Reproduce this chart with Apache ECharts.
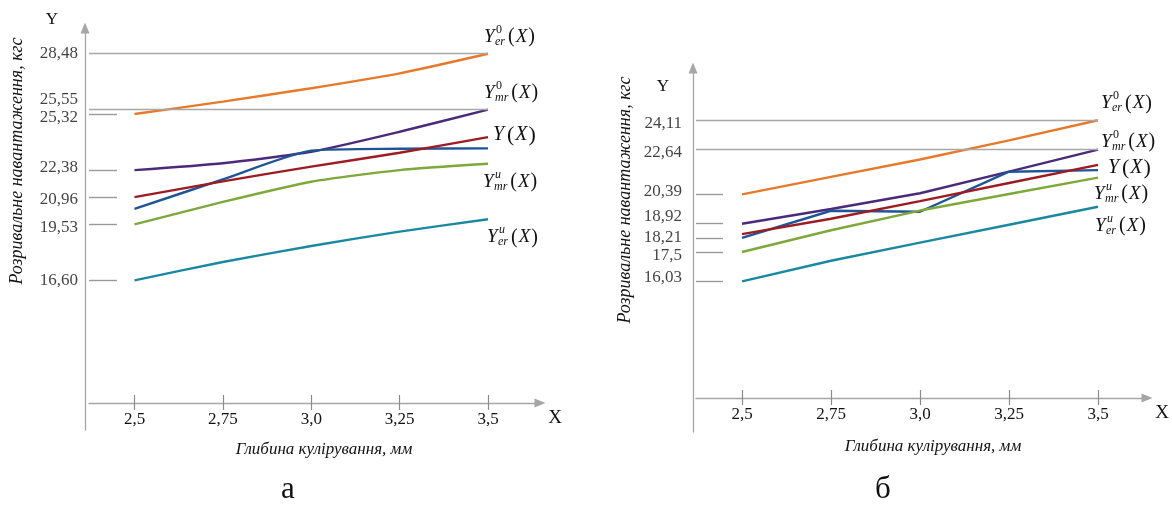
<!DOCTYPE html>
<html><head><meta charset="utf-8">
<script src="https://cdn.jsdelivr.net/npm/echarts@6/dist/echarts.min.js"></script>
<style>html,body{margin:0;padding:0;background:#fff}#c{width:1172px;height:506px}</style>
</head><body><div id="c"></div>
<script>
// ---------- DATA ----------
const xValues = [2.5, 2.75, 3.0, 3.25, 3.5];
const xTickLabels = ['2,5', '2,75', '3,0', '3,25', '3,5'];

// panel а
const aYer0 = [25.32, 25.97, 26.67, 27.45, 28.48];
const aYmr0 = [22.38, 22.74, 23.34, 24.39, 25.55];
const aYexp = [20.34, 21.89, 23.40, 23.50, 23.52];
const aYX   = [20.96, 21.79, 22.56, 23.29, 24.11];
const aYmru = [19.53, 20.71, 21.77, 22.38, 22.71];
const aYeru = [16.60, 17.56, 18.40, 19.15, 19.80];
const aYTicks = [28.48, 25.55, 25.32, 22.38, 20.96, 19.53, 16.60];
const aYTickLabels = ['28,48', '25,55', '25,32', '22,38', '20,96', '19,53', '16,60'];
const aLongTicks = [28.48, 25.55];

// panel б
const bYer0 = [20.39, 21.27, 22.14, 23.10, 24.11];
const bYmr0 = [18.92, 19.66, 20.45, 21.53, 22.64];
const bYexp = [18.21, 19.57, 19.52, 21.53, 21.61];
const bYX   = [18.40, 19.17, 20.05, 20.96, 21.87];
const bYmru = [17.50, 18.59, 19.58, 20.41, 21.23];
const bYeru = [16.03, 17.06, 17.97, 18.87, 19.77];
const bYTicks = [24.11, 22.64, 20.39, 18.92, 18.21, 17.5, 16.03];
const bYTickLabels = ['24,11', '22,64', '20,39', '18,92', '18,21', '17,5', '16,03'];
const bLongTicks = [24.11, 22.64];

const yTitle = 'Розривальне навантаження, кгс';
const xTitle = 'Глибина кулірування, мм';
const captions = ['а', 'б'];
// series label parts: [sup, sub] ; null = no label
const seriesLabelParts = [['0', 'er'], ['0', 'mr'], null, ['', ''], ['u', 'mr'], ['u', 'er']];

// ---------- STYLE / LAYOUT ----------
const SERIF = '"Liberation Serif", "Times New Roman", serif';
const colors = ['#e8792b', '#4b2a7b', '#1f5597', '#9e1b22', '#7ea83a', '#1a88a0'];
const AXIS = '#a6a6a6';

const panels = [
  { series: [aYer0, aYmr0, aYexp, aYX, aYmru, aYeru], ticks: aYTicks, tickLabels: aYTickLabels, longTicks: aLongTicks,
    left: 89, top: 28, width: 451, height: 402, px25: 134.5, px35: 488,
    yRefVal: 16.6, yRefPx: 280.3, pxPerY: 19.07, xAxisOffset: -27, yAxisOffset: 4, labelDist: 11,
    nudges: [0, -10, 4, -3, 2, 3, 0], shortLen: 28, smooth: 0.2,
    lblOff: [[-4, -17], [-4, -17], null, [5, -2], [-5, 18], [-1, 18]],
    yTitlePos: [17, 161], xTitlePos: [324, 450], yNamePos: [52, 20], xNamePos: [555, 418], capPos: [288, 490] },
  { series: [bYer0, bYmr0, bYexp, bYX, bYmru, bYeru], ticks: bYTicks, tickLabels: bYTickLabels, longTicks: bLongTicks,
    left: 696, top: 68, width: 451, height: 364, px25: 742, px35: 1098,
    yRefVal: 16.03, yRefPx: 281.3, pxPerY: 19.93, xAxisOffset: -34, yAxisOffset: 3, labelDist: 14,
    nudges: [3, 3, -3, -7, 0, 4, -4], shortLen: 27, smooth: false,
    lblOff: [[3, -17], [3, -8], null, [10, 3], [-4, 16], [-3, 19]],
    yTitlePos: [625, 200], xTitlePos: [933, 447], yNamePos: [663, 87], xNamePos: [1162, 413], capPos: [883, 490] }
];

const grid = [], xAxis = [], yAxis = [], series = [];
panels.forEach((p, pi) => {
  const pxPerX = (p.px35 - p.px25) / (3.5 - 2.5);
  const xMin = 2.5 - (p.px25 - p.left) / pxPerX;
  const xMax = xMin + p.width / pxPerX;
  const yMax = p.yRefVal + (p.yRefPx - p.top) / p.pxPerY;
  const yMin = p.yRefVal - (p.top + p.height - p.yRefPx) / p.pxPerY;
  grid.push({ left: p.left, top: p.top, width: p.width, height: p.height });
  const fmt = v => { const i = xValues.findIndex(x => Math.abs(x - v) < 1e-6); return i >= 0 ? xTickLabels[i] : ''; };
  xAxis.push({
    type: 'value', gridIndex: pi, position: 'bottom', min: xMin, max: xMax, offset: p.xAxisOffset,
    axisLine: { show: true, symbol: ['none', 'triangle'], symbolSize: [9, 11], lineStyle: { color: AXIS, width: 1.3 } },
    axisTick: { show: true, inside: true, length: 8, customValues: xValues, lineStyle: { color: '#8c8c8c', width: 1.2 } },
    axisLabel: { show: true, customValues: xValues, formatter: fmt, margin: 8, color: '#111', fontFamily: SERIF, fontSize: 17 },
    splitLine: { show: false }
  });
  xAxis.push({
    type: 'value', gridIndex: pi, position: 'bottom', min: xMin, max: xMax, offset: p.xAxisOffset,
    axisLine: { show: false },
    axisTick: { show: true, inside: false, length: 7, customValues: xValues, lineStyle: { color: '#8c8c8c', width: 1.2 } },
    axisLabel: { show: false }, splitLine: { show: false }
  });
  yAxis.push({
    type: 'value', gridIndex: pi, position: 'left', min: yMin, max: yMax, offset: p.yAxisOffset,
    axisLine: { show: true, symbol: ['none', 'triangle'], symbolSize: [9, 11], lineStyle: { color: AXIS, width: 1.3 } },
    axisTick: { show: false }, axisLabel: { show: false }, splitLine: { show: false }
  });
  p.firstSeries = series.length;
  p.series.forEach((arr, si) => {
    series.push({
      type: 'line', xAxisIndex: pi * 2, yAxisIndex: pi, data: xValues.map((x, i) => [x, arr[i]]),
      showSymbol: false, smooth: p.smooth, lineStyle: { color: colors[si], width: 2.4 }, itemStyle: { color: colors[si] },
      silent: true, z: 3
    });
  });
  const mlData = p.ticks.map(v => {
    const isLong = p.longTicks.includes(v);
    return [{ coord: [xMin, v] }, { coord: [isLong ? 3.5 : xMin + p.shortLen / pxPerX, v],
      lineStyle: { color: isLong ? '#a8a8a8' : '#9a9a9a', width: 1.4 } }];
  });
  series.push({
    type: 'scatter', xAxisIndex: pi * 2, yAxisIndex: pi, clip: false, silent: true, symbolSize: 0,
    data: p.ticks.map((v, i) => ({ value: [xMin, v], label: { offset: [0, p.nudges[i]] } })),
    label: { show: true, position: 'left', distance: p.labelDist, color: '#111', fontFamily: SERIF, fontSize: 17,
      formatter: prm => p.tickLabels[prm.dataIndex] },
    markLine: { silent: true, symbol: 'none', label: { show: false }, animation: false,
      lineStyle: { type: 'solid', color: '#a8a8a8', width: 1.4 }, data: mlData },
    z: 2
  });
});

const chart = echarts.init(document.getElementById('c'), null, { renderer: 'canvas' });
chart.setOption({ animation: false, backgroundColor: '#fff', grid, xAxis, yAxis, series });

// ---------- annotations ----------
const ctx = document.createElement('canvas').getContext('2d');
function tw(text, font) { ctx.font = font; return ctx.measureText(text).width; }
const fY = 'italic 19px ' + SERIF, fS = 'italic 12px ' + SERIF, fSup = '12px ' + SERIF;
const graphic = [];
function txt(x, y, text, font, extra) {
  graphic.push(Object.assign({ type: 'text', x, y, silent: true,
    style: Object.assign({ text, font, fill: '#111', verticalAlign: 'middle', align: 'left' }, extra || {}) }));
}
function mathLabel(px, py, parts) {
  const [sup, sub] = parts;
  if (!sup && !sub) {
    txt(px, py, 'Y', 'italic 20px ' + SERIF);
    graphic.push({ type: 'text', x: px + 13, y: py, silent: true, style: {
      text: '{p|(}{i|X}{p|)}', verticalAlign: 'middle', fill: '#111',
      rich: { p: { font: '22px ' + SERIF, padding: [0, 1] }, i: { font: 'italic 20px ' + SERIF } } } });
    return;
  }
  txt(px, py, 'Y', fY);
  txt(px + 12, py - 7, sup, sup === 'u' ? fS : fSup);
  txt(px + 11, py + 5, sub, fS);
  const w = Math.max(tw(sub, fS) + 11, 12 + tw(sup, fSup)) + 2;
  graphic.push({ type: 'text', x: px + w, y: py, silent: true, style: {
    text: '{p|(}{i|X}{p|)}', verticalAlign: 'middle', fill: '#111',
    rich: { p: { font: '20px ' + SERIF, padding: [0, 1] }, i: { font: 'italic 19px ' + SERIF } } } });
}
panels.forEach((p, pi) => {
  p.series.forEach((arr, si) => {
    const parts = seriesLabelParts[si];
    if (!parts) return;
    const pt = chart.convertToPixel({ seriesIndex: p.firstSeries + si }, [3.5, arr[arr.length - 1]]);
    const off = p.lblOff[si];
    mathLabel(pt[0] + off[0], pt[1] + off[1], parts);
  });
  graphic.push({ type: 'text', x: p.yTitlePos[0], y: p.yTitlePos[1], rotation: Math.PI / 2, silent: true,
    style: { text: yTitle, font: 'italic 18px ' + SERIF, fill: '#111', align: 'center', verticalAlign: 'middle' } });
  txt(p.xTitlePos[0], p.xTitlePos[1], xTitle, 'italic 17px ' + SERIF, { align: 'center' });
  txt(p.yNamePos[0], p.yNamePos[1], 'Y', '17px ' + SERIF, { align: 'center' });
  txt(p.xNamePos[0], p.xNamePos[1], 'X', '19px ' + SERIF, { align: 'center' });
  txt(p.capPos[0], p.capPos[1], captions[pi], '31px ' + SERIF, { align: 'center' });
});
chart.setOption({ graphic });
</script>
</body></html>
